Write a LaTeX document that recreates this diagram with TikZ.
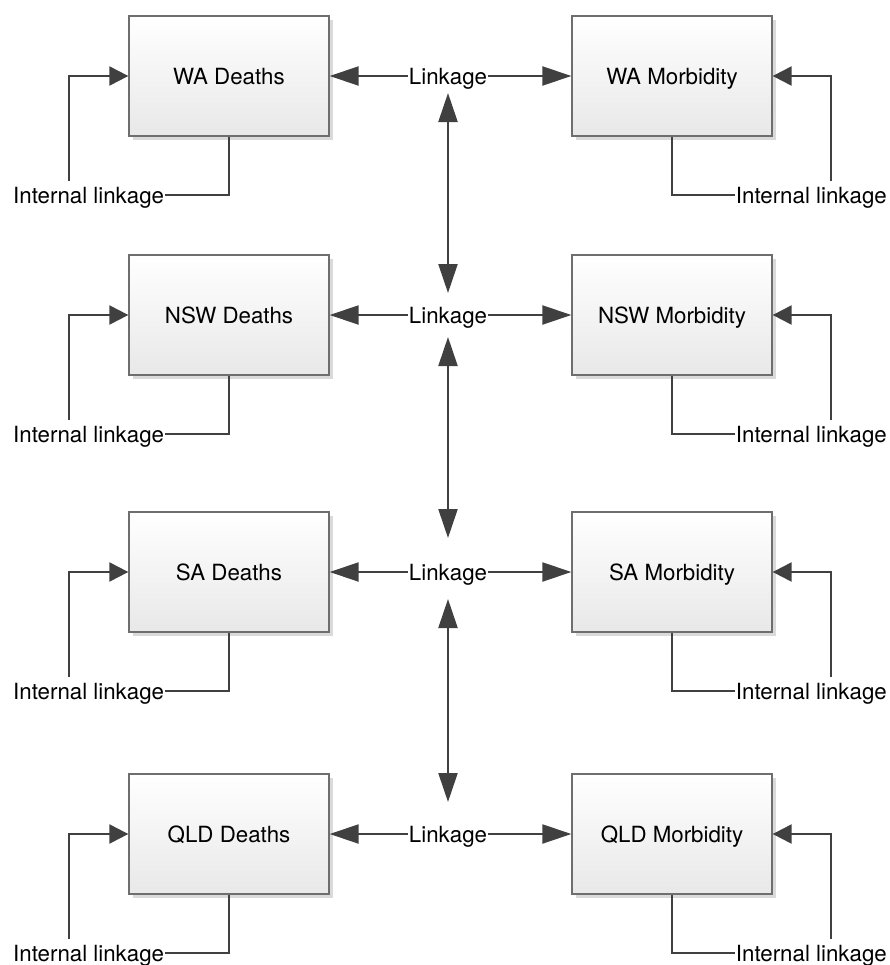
\documentclass[tikz,border=0pt]{standalone}
\usepackage{fontspec}
\setmainfont{TeX Gyre Heros}
\usetikzlibrary{arrows.meta,shadows}
\definecolor{linegray}{HTML}{404040}
\definecolor{boxline}{HTML}{6E6E6E}
\definecolor{boxbottom}{HTML}{E8E8E8}
\definecolor{shadowgray}{HTML}{DADADA}

\begin{document}
\begin{tikzpicture}[x=1bp,y=-1bp,
  font=\fontsize{22.3bp}{26bp}\selectfont,
  dbox/.style={draw=boxline, line width=1.3bp,
    minimum width=200bp, minimum height=120bp,
    text height=16bp, text depth=0bp,
    top color=white, bottom color=boxbottom,
    drop shadow={shadow xshift=4bp, shadow yshift=-4bp,
      fill=shadowgray, opacity=1}},
  lab/.style={inner sep=1bp, text height=16bp, text depth=0bp},
  conn/.style={draw=linegray, line width=2.2bp},
  lkarrow/.style={conn, -{Triangle[length=29bp,width=19bp]}},
  lkboth/.style={conn, {Triangle[length=29bp,width=19bp]}-{Triangle[length=29bp,width=19bp]}},
  ilarrow/.style={conn, -{Triangle[length=19bp,width=19bp]}}]

\useasboundingbox (0,0) rectangle (890,965);

% one row per state: deaths and morbidity collections with their linkages
\foreach \st/\y [count=\i] in {WA/76,NSW/315,SA/572,QLD/834}{
  \node[dbox] (d\i) at (229,\y) {\st{} Deaths};
  \node[dbox] (m\i) at (672,\y) {\st{} Morbidity};
  \node[lab] (lk\i) at (448,\y) {Linkage};
  \node[lab,anchor=west] (ild\i) at (12,\y+119) {Internal linkage};
  \node[lab,anchor=east] (ilm\i) at (888,\y+119) {Internal linkage};
  \coordinate (ind\i) at (69,\y+105);
  \coordinate (inm\i) at (831,\y+105);
  % cross-dataset linkage
  \draw[lkarrow] (lk\i) -- (d\i);
  \draw[lkarrow] (lk\i) -- (m\i);
  % internal linkage loops
  \draw[conn] (d\i.south) |- (ild\i.east);
  \draw[ilarrow] (ind\i) |- (d\i.west);
  \draw[conn] (m\i.south) |- (ilm\i.west);
  \draw[ilarrow] (inm\i) |- (m\i.east);
}

% linkage between states
\draw[lkboth] ([yshift=-17bp]lk1.center) -- ([yshift=22bp]lk2.center);
\draw[lkboth] ([yshift=-22bp]lk2.center) -- ([yshift=34bp]lk3.center);
\draw[lkboth] ([yshift=-27bp]lk3.center) -- ([yshift=32bp]lk4.center);
\end{tikzpicture}
\end{document}
